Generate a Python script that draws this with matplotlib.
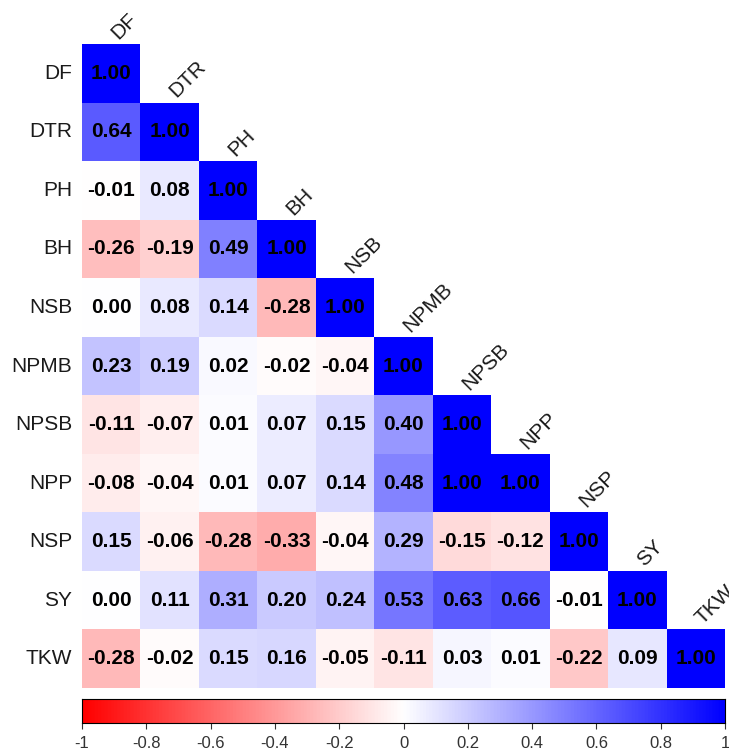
import numpy as np
import matplotlib
matplotlib.use("Agg")
import matplotlib.pyplot as plt
from matplotlib.colors import LinearSegmentedColormap

labels = ["DF", "DTR", "PH", "BH", "NSB", "NPMB", "NPSB", "NPP", "NSP", "SY", "TKW"]

row_DF = [1.00]
row_DTR = [0.64, 1.00]
row_PH = [-0.01, 0.08, 1.00]
row_BH = [-0.26, -0.19, 0.49, 1.00]
row_NSB = [0.00, 0.08, 0.14, -0.28, 1.00]
row_NPMB = [0.23, 0.19, 0.02, -0.02, -0.04, 1.00]
row_NPSB = [-0.11, -0.07, 0.01, 0.07, 0.15, 0.40, 1.00]
row_NPP = [-0.08, -0.04, 0.01, 0.07, 0.14, 0.48, 1.00, 1.00]
row_NSP = [0.15, -0.06, -0.28, -0.33, -0.04, 0.29, -0.15, -0.12, 1.00]
row_SY = [0.00, 0.11, 0.31, 0.20, 0.24, 0.53, 0.63, 0.66, -0.01, 1.00]
row_TKW = [-0.28, -0.02, 0.15, 0.16, -0.05, -0.11, 0.03, 0.01, -0.22, 0.09, 1.00]

rows = [row_DF, row_DTR, row_PH, row_BH, row_NSB, row_NPMB, row_NPSB,
        row_NPP, row_NSP, row_SY, row_TKW]

cbar_ticks = [-1, -0.8, -0.6, -0.4, -0.2, 0, 0.2, 0.4, 0.6, 0.8, 1]
cbar_ticklabels = ["-1", "-0.8", "-0.6", "-0.4", "-0.2", "0", "0.2", "0.4", "0.6", "0.8", "1"]

n = len(labels)
M = np.full((n, n), np.nan)
for i, r in enumerate(rows):
    M[i, :len(r)] = r
Mm = np.ma.masked_invalid(M)

cmap = LinearSegmentedColormap.from_list("rwb", ["#FF0000", "#FFFFFF", "#0000FF"], N=200)

plt.rcParams['font.family'] = ['Liberation Sans', 'DejaVu Sans']

W, H = 729, 753
fig = plt.figure(figsize=(W / 100, H / 100), dpi=100)

gl, gr, gt, gb = 82, 725, 44, 688
ax = fig.add_axes([gl / W, 1 - gb / H, (gr - gl) / W, (gb - gt) / H])
ax.pcolormesh(np.arange(n + 1), np.arange(n + 1), Mm, cmap=cmap, vmin=-1, vmax=1)
ax.set_xlim(0, n)
ax.set_ylim(n, 0)
ax.axis("off")

for i, r in enumerate(rows):
    for j, v in enumerate(r):
        ax.text(j + 0.5, i + 0.5, f"{v:.2f}", ha="center", va="center",
                fontsize=15, fontweight="bold", color="black")
    ax.text(-0.17, i + 0.5, labels[i], ha="right", va="center",
            fontsize=15, color="#1a1a1a")
    ax.text(i + 0.62, i - 0.07, labels[i], ha="left", va="baseline",
            rotation=45, rotation_mode="anchor", fontsize=15, color="#1a1a1a",
            clip_on=False)

ct, cb = 699, 723
cax = fig.add_axes([gl / W, 1 - cb / H, (gr - gl) / W, (cb - ct) / H])
grad = np.linspace(-1, 1, 400).reshape(1, -1)
cax.imshow(grad, cmap=cmap, vmin=-1, vmax=1, aspect="auto", extent=[-1, 1, 0, 1])
cax.set_xlim(-1, 1)
cax.set_yticks([])
cax.set_xticks(cbar_ticks)
cax.set_xticklabels(cbar_ticklabels, fontsize=12, color="#333333")
cax.tick_params(axis="x", direction="out", length=4, width=0.8, pad=5.5, color="#333333")
for s in cax.spines.values():
    s.set_linewidth(0.8)
    s.set_color("black")

fig.savefig("out.png", dpi=100)
